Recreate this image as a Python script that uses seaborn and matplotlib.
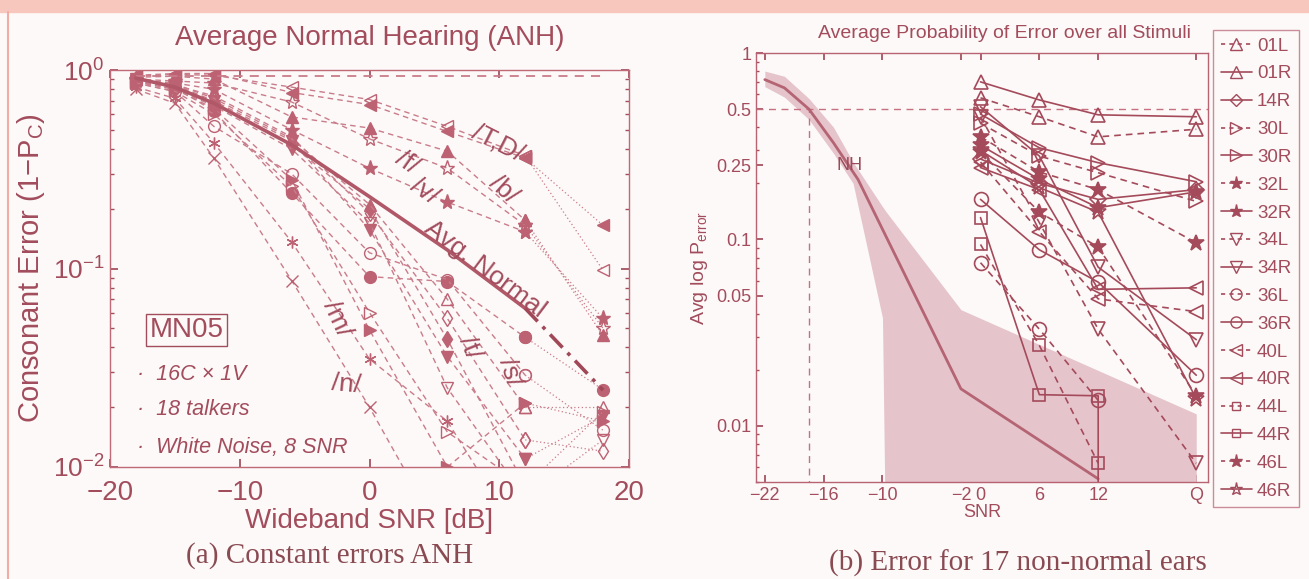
import numpy as np
import matplotlib
matplotlib.use("Agg")
import matplotlib.pyplot as plt
import seaborn as sns
from matplotlib.lines import Line2D
from matplotlib.patches import Rectangle
from matplotlib.ticker import FixedLocator, FixedFormatter, NullFormatter, LogLocator

# ---------------- data : panel (a) ----------------
snr_a = [-18, -15, -12, -6, 0, 6, 12, 18]
chance_level = 15 / 16
avg_normal = [0.91, 0.82, 0.68, 0.42, 0.23, 0.124, 0.063, 0.0244]

cons_T = [0.93, 0.95, 0.94, 0.82, 0.71, 0.52, 0.37, 0.098]
cons_D = [0.94, 0.96, 0.96, 0.77, 0.67, 0.49, 0.36, 0.165]
cons_b = [0.92, 0.93, 0.90, 0.58, 0.51, 0.39, 0.175, 0.046]
cons_f = [0.90, 0.88, 0.86, 0.69, 0.45, 0.32, 0.165, 0.05]
cons_v = [0.89, 0.86, 0.80, 0.50, 0.32, 0.216, 0.153, 0.056]
cons_s = [0.90, 0.84, 0.74, 0.46, 0.19, 0.056, 0.0137, 0.012]
cons_t = [0.88, 0.80, 0.68, 0.42, 0.20, 0.044, 0.008, 0.006]
cons_z = [0.90, 0.84, 0.70, 0.44, 0.157, 0.036, 0.011, 0.018]
cons_S = [0.88, 0.80, 0.66, 0.40, 0.17, 0.025, 0.007, 0.0137]
cons_Z = [0.90, 0.85, 0.72, 0.45, 0.21, 0.07, 0.02, 0.02]
cons_g = [0.88, 0.82, 0.62, 0.24, 0.091, 0.086, 0.045, 0.0245]
cons_d = [0.86, 0.78, 0.52, 0.30, 0.12, 0.088, 0.029, 0.0153]
cons_k = [0.87, 0.80, 0.64, 0.28, 0.049, 0.010, 0.021, 0.017]
cons_p = [0.86, 0.78, 0.60, 0.26, 0.06, 0.015, 0.008, 0.019]
cons_m = [0.82, 0.72, 0.43, 0.136, 0.035, 0.017, 0.004, np.nan]
cons_n = [0.80, 0.68, 0.36, 0.087, 0.020, 0.004, np.nan, np.nan]

consonant_labels = ["/T,D/", "/f/", "/v/", "/b/", "Avg. Normal", "/m/", "/n/", "/t/", "/s/"]

# ---------------- data : panel (b) ----------------
nh_snr = [-22, -20, -17.5, -15, -12.5, -2, 12]
nh_err = [0.72, 0.65, 0.5, 0.33, 0.21, 0.0158, 0.0052]
band_snr = [-22, -20, -17.5, -15, -13, -10, -9.6, -2, 22]
band_hi = [0.80, 0.75, 0.57, 0.40, 0.26, 0.15, 0.14, 0.042, 0.0116]
band_lo = [0.66, 0.58, 0.44, 0.29, 0.20, 0.038, 0.001, 0.001, 0.001]
nh_snr50 = -17.5
p50 = 0.5

snr_b = [0, 6, 12, 22]
snr_b_ticks = [-22, -16, -10, -2, 0, 6, 12, 22]
snr_b_ticklabels = ["\u221222", "\u221216", "\u221210", "\u22122", "0", "6", "12", "Q"]

ear_01L = [0.575, 0.455, 0.355, 0.39]
ear_01R = [0.70, 0.56, 0.466, 0.455]
ear_14R = [0.27, 0.20, 0.164, 0.185]
ear_30L = [0.42, 0.28, 0.228, 0.16]
ear_30R = [0.47, 0.31, 0.258, 0.204]
ear_32L = [0.355, 0.23, 0.185, 0.096]
ear_32R = [0.32, 0.21, 0.148, 0.18]
ear_34L = [0.455, 0.123, 0.033, 0.0063]
ear_34R = [0.515, 0.28, 0.071, 0.029]
ear_36L = [0.075, 0.033, 0.0137, np.nan]
ear_36R = [0.164, 0.088, 0.059, 0.0187]
ear_40L = [0.26, 0.11, 0.048, 0.041]
ear_40R = [0.243, 0.185, 0.054, 0.055]
ear_44L = [0.094, 0.027, 0.0063, np.nan]
ear_44R_snr = [0, 6, 12, 12]
ear_44R = [0.131, 0.0147, 0.0145, 0.004]
ear_46L = [0.295, 0.14, 0.091, 0.0145]
ear_46R = [0.30, 0.19, 0.14, 0.014]

# ---------------- styling ----------------
TXT = "#a24c5c"
LINE_A = "#c97c8a"
MK_A = "#bc6272"
LINE_B = "#a44a5a"
BAND = "#e6c4cc"
NHC = "#b46472"
BG = "#fcf9f8"

sns.set_theme(style="ticks")
plt.rcParams["font.family"] = ["Liberation Sans", "DejaVu Sans"]
plt.rcParams["mathtext.default"] = "regular"
plt.rcParams["axes.edgecolor"] = TXT
plt.rcParams["xtick.color"] = TXT
plt.rcParams["ytick.color"] = TXT
plt.rcParams["text.color"] = TXT
plt.rcParams["axes.labelcolor"] = TXT

fig = plt.figure(figsize=(13.09, 5.79), dpi=100, facecolor=BG)
fig.patches.append(Rectangle((0, 1 - 12 / 579), 1, 12 / 579, transform=fig.transFigure,
                             color="#f7c6bd", zorder=0))
fig.lines.append(Line2D([8 / 1309, 8 / 1309], [0, 1 - 12 / 579], transform=fig.transFigure,
                        color="#f2aca6", lw=1.5))

# ================= panel (a) =================
axL = fig.add_axes([110 / 1309, 1 - 467 / 579, 519 / 1309, 397 / 579], facecolor=BG)
axL.set_yscale("log")

cons_series = [
    (cons_T, "<", False), (cons_D, "<", True), (cons_b, "^", True), (cons_f, "*", False),
    (cons_v, "*", True), (cons_s, "d", False), (cons_t, "d", True), (cons_z, "v", True),
    (cons_S, "v", False), (cons_Z, "^", False), (cons_g, "o", True), (cons_d, "o", False),
    (cons_k, ">", True), (cons_p, ">", False), (cons_m, (6, 2, 0), False), (cons_n, "x", False),
]

snr_a_arr = np.array(snr_a, dtype=float)
for vals, mk, filled in cons_series:
    v = np.array(vals, dtype=float)
    mfc = MK_A if filled else "none"
    ms = 11 if mk == "*" else 8.5
    sns.lineplot(x=snr_a_arr[:7], y=v[:7], ax=axL, color=LINE_A, lw=1.0,
                 linestyle=(0, (4, 3)), marker=mk, markersize=ms, markerfacecolor=mfc,
                 markeredgecolor=MK_A, markeredgewidth=1.0, estimator=None, errorbar=None,
                 sort=False)
    sns.lineplot(x=snr_a_arr[6:], y=v[6:], ax=axL, color=LINE_A, lw=0.9,
                 linestyle=(0, (1, 2)), marker=mk, markersize=ms, markerfacecolor=mfc,
                 markeredgecolor=MK_A, markeredgewidth=1.0, estimator=None, errorbar=None,
                 sort=False)

# chance line
sns.lineplot(x=[snr_a[0], snr_a[-1]], y=[chance_level, chance_level], ax=axL, color=LINE_A,
             lw=1.3, linestyle=(0, (5, 4)), estimator=None, errorbar=None)

# average normal
avg = np.array(avg_normal)
sns.lineplot(x=snr_a_arr[:7], y=avg[:7], ax=axL, color="#b05868", lw=2.6,
             estimator=None, errorbar=None, sort=False)
sns.lineplot(x=snr_a_arr[6:], y=avg[6:], ax=axL, color="#a04858", lw=2.6,
             linestyle=(0, (5, 2, 1, 2)), estimator=None, errorbar=None, sort=False)

axL.set_xlim(-20, 20)
axL.set_ylim(0.01, 1.0)
axL.set_xticks([-20, -10, 0, 10, 20])
axL.set_xticklabels(["\u221220", "\u221210", "0", "10", "20"])
axL.tick_params(axis="both", which="both", direction="in", top=True, right=True,
                labelsize=20, colors=TXT)
axL.tick_params(axis="x", which="major", pad=9)
axL.tick_params(axis="y", which="major", pad=4, labelsize=19)
axL.tick_params(axis="both", which="major", length=6)
axL.tick_params(axis="both", which="minor", length=3)
axL.set_xlabel("Wideband SNR [dB]", fontsize=20, labelpad=2)
axL.set_ylabel("Consonant Error (1\u2212P$_C$)", fontsize=21, labelpad=4)
for sp in axL.spines.values():
    sp.set_color("#c06a78")
    sp.set_linewidth(1.0)

# consonant labels
lab_pos = [(9.9, 0.43, -27), (2.9, 0.34, -35), (4.2, 0.245, -35), (10.3, 0.25, -42),
           (8.9, 0.10, -37), (-2.5, 0.056, -65), (-1.8, 0.026, -5), (7.7, 0.040, -68),
           (10.8, 0.030, -72)]
for txt, (lx, ly, rot) in zip(consonant_labels, lab_pos):
    axL.text(lx, ly, txt, fontsize=19, color=TXT, rotation=rot, ha="center", va="center",
             rotation_mode="anchor")

axL.text(0.148, 0.345, "MN05", transform=axL.transAxes, fontsize=20, ha="center", va="center",
         bbox=dict(boxstyle="square,pad=0.12", fc=BG, ec=TXT, lw=1.0))
for yy, t in zip([0.232, 0.144, 0.05], ["16C \u00d7 1V", "18 talkers", "White Noise, 8 SNR"]):
    axL.text(0.052, yy, "\u00b7  " + t, transform=axL.transAxes, fontsize=15.5, style="italic",
             ha="left", va="center")

fig.text(370 / 1309, 1 - 38 / 579, "Average Normal Hearing (ANH)", fontsize=20, ha="center",
         va="center", color=TXT)
fig.text(330 / 1309, 1 - 556 / 579, "(a) Constant errors ANH", fontsize=21, ha="center",
         va="center", family=["Liberation Serif", "DejaVu Serif"], color="#8a4a52")

# ================= panel (b) =================
axR = fig.add_axes([756 / 1309, 1 - 482 / 579, 452 / 1309, 429 / 579], facecolor=BG)
axR.set_yscale("log")
axR.fill_between(band_snr, band_lo, band_hi, color=BAND, lw=0, zorder=1)
sns.lineplot(x=nh_snr, y=nh_err, ax=axR, color=NHC, lw=2.0, estimator=None, errorbar=None,
             sort=False, zorder=2)
axR.axhline(p50, color="#c87080", lw=1.0, linestyle=(0, (5, 4)), zorder=1)
axR.vlines(nh_snr50, 0.004, p50, color="#c87080", lw=1.0, linestyles=[(0, (5, 4))], zorder=1)
axR.text(-13.4, 0.25, "NH", fontsize=13, color="#9a4a58", ha="center", va="center")

ear_series = [
    ("01L", snr_b, ear_01L, "^", False, "--"), ("01R", snr_b, ear_01R, "^", False, "-"),
    ("14R", snr_b, ear_14R, "D", False, "-"), ("30L", snr_b, ear_30L, ">", False, "--"),
    ("30R", snr_b, ear_30R, ">", False, "-"), ("32L", snr_b, ear_32L, "*", True, "--"),
    ("32R", snr_b, ear_32R, "*", True, "-"), ("34L", snr_b, ear_34L, "v", False, "--"),
    ("34R", snr_b, ear_34R, "v", False, "-"), ("36L", snr_b, ear_36L, "o", False, "--"),
    ("36R", snr_b, ear_36R, "o", False, "-"), ("40L", snr_b, ear_40L, "<", False, "--"),
    ("40R", snr_b, ear_40R, "<", False, "-"), ("44L", snr_b, ear_44L, "s", False, "--"),
    ("44R", ear_44R_snr, ear_44R, "s", False, "-"), ("46L", snr_b, ear_46L, "*", True, "--"),
    ("46R", snr_b, ear_46R, "*", False, "-"),
]

handles, labels = [], []
for name, xs, ys, mk, filled, ls in ear_series:
    mfc = LINE_B if filled else "none"
    ms = 12 if mk == "*" else 10
    if mk in ("D", "s"):
        ms = 8
    lsty = (0, (4, 3)) if ls == "--" else "-"
    sns.lineplot(x=np.array(xs, float), y=np.array(ys, float), ax=axR, color=LINE_B, lw=1.2,
                 linestyle=lsty, marker=mk, markersize=ms, markerfacecolor=mfc,
                 markeredgecolor=LINE_B, markeredgewidth=1.2, estimator=None, errorbar=None,
                 sort=False, zorder=3)
    handles.append(Line2D([], [], color=LINE_B, lw=1.2,
                          linestyle=(0, (2.5, 2.5)) if ls == "--" else "-", marker=mk,
                          markersize=ms * 0.8, markerfacecolor=mfc, markeredgecolor=LINE_B))
    labels.append(name)

axR.set_xlim(-22.9, 23.2)
axR.set_ylim(0.005, 1.0)
axR.xaxis.set_major_locator(FixedLocator(snr_b_ticks))
axR.xaxis.set_major_formatter(FixedFormatter(snr_b_ticklabels))
axR.yaxis.set_major_locator(FixedLocator([0.01, 0.05, 0.1, 0.25, 0.5, 1.0]))
axR.yaxis.set_major_formatter(FixedFormatter(["0.01", "0.05", "0.1", "0.25", "0.5", "1"]))
axR.yaxis.set_minor_locator(LogLocator(base=10, subs=np.arange(2, 10)))
axR.yaxis.set_minor_formatter(NullFormatter())
axR.tick_params(axis="both", which="both", direction="in", top=True, right=False,
                labelsize=13, colors=TXT)
axR.tick_params(axis="both", which="major", length=5)
axR.tick_params(axis="both", which="minor", length=2.5)
axR.set_xlabel("SNR", fontsize=13, labelpad=0)
axR.set_ylabel("Avg log P$_{error}$", fontsize=14, labelpad=4)
for sp in axR.spines.values():
    sp.set_color("#b86272")
    sp.set_linewidth(1.0)

fig.text(1005 / 1309, 1 - 33 / 579, "Average Probability of Error over all Stimuli",
         fontsize=14, ha="center", va="center", color=TXT)
fig.text(1018 / 1309, 1 - 563 / 579, "(b) Error for 17 non-normal ears", fontsize=21,
         ha="center", va="center", family=["Liberation Serif", "DejaVu Serif"], color="#8a4a52")

leg = fig.legend(handles, labels, loc="upper left", bbox_to_anchor=(1213 / 1309, 1 - 30 / 579),
                 fontsize=13.5, frameon=True, fancybox=False, handlelength=1.7,
                 handletextpad=0.25, labelspacing=0.57, borderpad=0.4, borderaxespad=0.0)
leg.get_frame().set_edgecolor("#c07080")
leg.get_frame().set_facecolor(BG)
leg.get_frame().set_linewidth(1.0)
for t in leg.get_texts():
    t.set_color(TXT)

fig.savefig("out.png", dpi=100, facecolor=BG)
